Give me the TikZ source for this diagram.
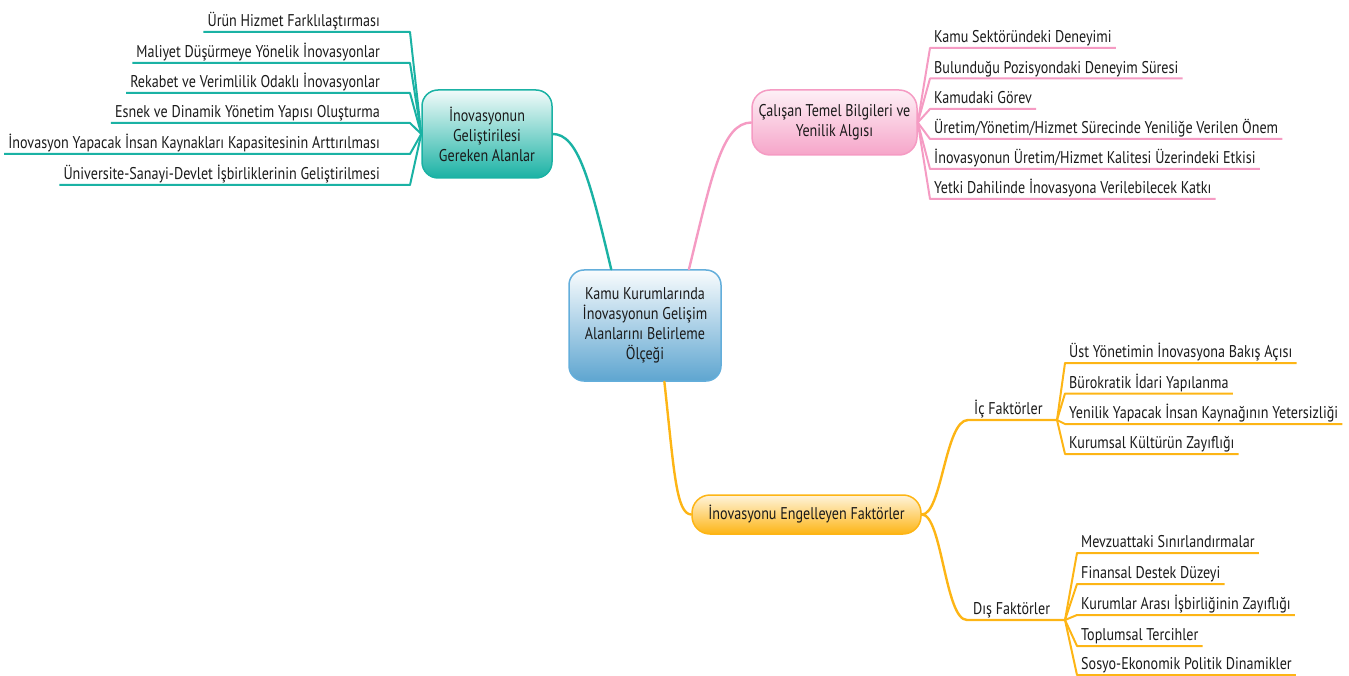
\documentclass[tikz,border=0pt]{standalone}
\usepackage{fontspec}
\setmainfont{PT Sans}[FakeStretch=0.83]
\usetikzlibrary{calc}
\definecolor{tealln}{HTML}{1AB2A4}
\definecolor{pinkln}{HTML}{F59BC3}
\definecolor{orangeln}{HTML}{FDB515}
\definecolor{blueln}{HTML}{63AEDB}
\definecolor{textc}{HTML}{1A1A1A}
\begin{document}
\begin{tikzpicture}[x=1pt,y=-1pt,
  every node/.style={text=textc, font=\fontsize{17}{20}\selectfont},
  box/.style={draw, line width=1.5pt, rounded corners=16pt, align=center, inner sep=0pt},
  item/.style={inner xsep=4pt, inner ysep=1.5pt, text height=12.5pt, text depth=3.5pt},
  link/.style={line width=2.4pt, line cap=round, line join=round},
  leaf/.style={line width=2pt, line join=round}
]
\useasboundingbox (0,0) rectangle (1349,676);

% central topic
\node[box, draw=blueln, top color=white!96!blueln, bottom color=blueln!95!black,
      minimum width=152pt, minimum height=111pt, rounded corners=15pt] (ctr) at (645,325.5)
  {Kamu Kurumlarında\\İnovasyonun Gelişim\\Alanlarını Belirleme\\Ölçeği};

% main branches
\node[box, draw=tealln, top color=white!94!tealln, bottom color=tealln,
      minimum width=130pt, minimum height=88pt] (lt) at (487,134)
  {İnovasyonun\\Geliştirilesi\\Gereken Alanlar};
\node[box, draw=pinkln, top color=white!85!pinkln, bottom color=pinkln!90!white,
      minimum width=165pt, minimum height=65pt, rounded corners=18pt] (pk) at (834.5,122.5)
  {Çalışan Temel Bilgileri ve\\Yenilik Algısı};
\node[box, draw=orangeln, top color=white!85!orangeln, bottom color=orangeln,
      minimum width=229pt, minimum height=39pt, rounded corners=18pt] (eng) at (806.5,514.5)
  {İnovasyonu Engelleyen Faktörler};

\draw[link, tealln] (ctr.121) .. controls (590,180) and (578,134) .. (lt.east);
\draw[link, pinkln] (ctr.52) .. controls (712,175) and (722,123) .. (pk.west);
\draw[link, orangeln] (ctr.-71) .. controls (674,470) and (676,514) .. (eng.west);

% left leaves
\foreach \n/\y/\t in {
  l1/32/{Ürün Hizmet Farklılaştırması},
  l2/63/{Maliyet Düşürmeye Yönelik İnovasyonlar},
  l3/93/{Rekabet ve Verimlilik Odaklı İnovasyonlar},
  l4/123/{Esnek ve Dinamik Yönetim Yapısı Oluşturma},
  l5/154/{İnovasyon Yapacak İnsan Kaynakları Kapasitesinin Arttırılması},
  l6/185/{Üniversite-Sanayi-Devlet İşbirliklerinin Geliştirilmesi}}{
  \node[item, anchor=south east] (\n) at (384,\y) {\t};
  \draw[leaf, tealln] (\n.south west) -- ($(\n.south east)+(26,0)$) -- (lt.west);
}

% right leaves of the pink branch
\foreach \n/\y/\t in {
  p1/48/{Kamu Sektöründeki Deneyimi},
  p2/78.5/{Bulunduğu Pozisyondaki Deneyim Süresi},
  p3/109/{Kamudaki Görev},
  p4/139/{Üretim/Yönetim/Hizmet Sürecinde Yeniliğe Verilen Önem},
  p5/169/{İnovasyonun Üretim/Hizmet Kalitesi Üzerindeki Etkisi},
  p6/199/{Yetki Dahilinde İnovasyona Verilebilecek Katkı}}{
  \node[item, anchor=south west] (\n) at (930,\y) {\t};
  \draw[leaf, pinkln] (pk.east) -- (\n.south west) -- (\n.south east);
}

% internal and external factors
\node[item, anchor=south west, inner xsep=6pt] (ic) at (968,420) {İç Faktörler};
\coordinate (icj) at (1057,420);
\node[item, anchor=south west, inner xsep=6pt] (dis) at (967,620) {Dış Faktörler};
\coordinate (disj) at (1065,620);

\draw[link, orangeln] (eng.east) .. controls (942,515) and (945,420) .. (ic.south west) -- (icj);
\draw[link, orangeln] (eng.east) .. controls (942,514) and (945,620) .. (dis.south west) -- (disj);

\foreach \n/\y/\t in {
  i1/363/{Üst Yönetimin İnovasyona Bakış Açısı},
  i2/393.5/{Bürokratik İdari Yapılanma},
  i3/424/{Yenilik Yapacak İnsan Kaynağının Yetersizliği},
  i4/454/{Kurumsal Kültürün Zayıflığı}}{
  \node[item, anchor=south west] (\n) at (1065,\y) {\t};
  \draw[leaf, orangeln] (icj) -- (\n.south west) -- (\n.south east);
}

\foreach \n/\y/\t in {
  d1/553/{Mevzuattaki Sınırlandırmalar},
  d2/584/{Finansal Destek Düzeyi},
  d3/615/{Kurumlar Arası İşbirliğinin Zayıflığı},
  d4/646/{Toplumsal Tercihler},
  d5/675/{Sosyo-Ekonomik Politik Dinamikler}}{
  \node[item, anchor=south west] (\n) at (1077,\y) {\t};
  \draw[leaf, orangeln] (disj) -- (\n.south west) -- (\n.south east);
}
\end{tikzpicture}
\end{document}
